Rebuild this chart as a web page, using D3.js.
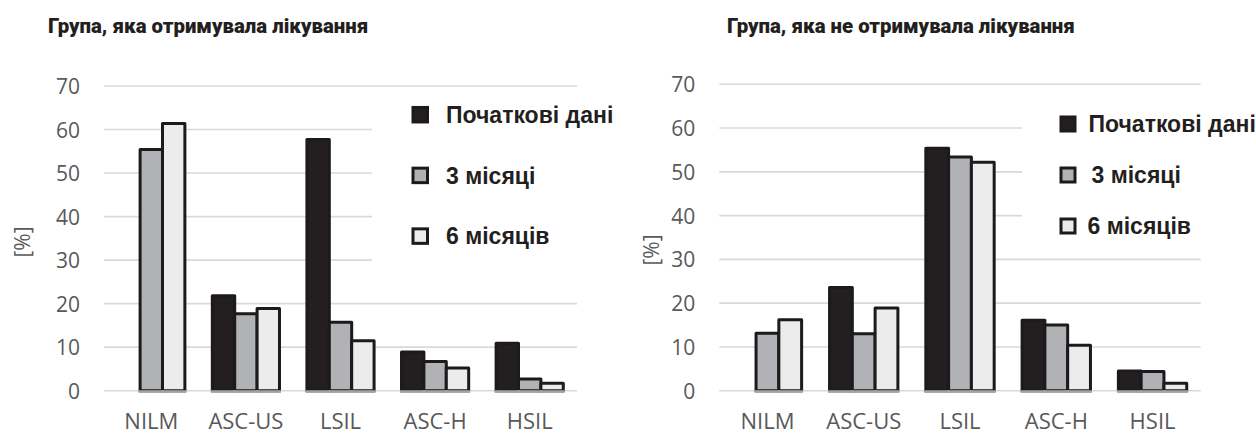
<!DOCTYPE html>
<html>
<head>
<meta charset="utf-8">
<script src="https://cdn.jsdelivr.net/npm/d3@7"></script>
<style>
  html, body { margin: 0; padding: 0; background: #fff; }
  svg { display: block; }
</style>
</head>
<body>
<svg id="chart" width="1256" height="434"></svg>
<script>
// Cytology categories and the three observation points
const categories = ["NILM", "ASC-US", "LSIL", "ASC-H", "HSIL"];
const seriesNames = ["Початкові дані", "3 місяці", "6 місяців"];
const yTicks = [0, 10, 20, 30, 40, 50, 60, 70];

// Treated group, % of patients
const treatedBaseline = [0, 21.8, 57.7, 8.9, 10.9];
const treated3m = [55.4, 17.7, 15.7, 6.7, 2.7];
const treated6m = [61.4, 18.9, 11.5, 5.2, 1.7];

// Untreated group, % of patients
const untreatedBaseline = [0, 23.6, 55.4, 16.1, 4.5];
const untreated3m = [13.1, 13.0, 53.4, 15.0, 4.4];
const untreated6m = [16.2, 18.9, 52.2, 10.4, 1.7];

const titleTreated = "Група, яка отримувала лікування";
const titleUntreated = "Група, яка не отримувала лікування";
const yLabel = "[%]";

const fills = ["#231f20", "#b1b2b6", "#ececec"];
const strokeColor = "#1c1a1b";
const gridColor = "#d9d9d9";
const tickColor = "#595959";

const svg = d3.select("#chart");

function drawPanel(opts) {
  const g = svg.append("g");
  const series = opts.series;

  const x = d3.scaleBand().domain(categories)
    .range([opts.x0, opts.x1]).paddingInner(0.29).paddingOuter(0.145);
  const xs = d3.scaleBand().domain(d3.range(series.length))
    .range([0, x.bandwidth()]);
  const y = d3.scaleLinear().domain([0, 70]).range([opts.yBottom, opts.yTop]);

  // horizontal gridlines
  g.append("g").selectAll("line").data(yTicks).join("line")
    .attr("x1", opts.x0).attr("x2", opts.x1)
    .attr("y1", d => y(d)).attr("y2", d => y(d))
    .attr("stroke", gridColor).attr("stroke-width", 1.6);

  // y tick labels
  const yAxis = g.append("g")
    .attr("transform", `translate(${opts.x0},0)`)
    .call(d3.axisLeft(y).tickValues(yTicks).tickSize(0).tickPadding(24));
  yAxis.select(".domain").remove();
  yAxis.selectAll("text")
    .attr("fill", tickColor)
    .style("font-family", "'Open Sans', sans-serif")
    .style("font-size", "21px")
    .attr("dy", "0.36em");

  // x category labels
  const xAxis = g.append("g")
    .attr("transform", `translate(0,${opts.yBottom})`)
    .call(d3.axisBottom(x).tickSize(0).tickPadding(23));
  xAxis.select(".domain").remove();
  xAxis.selectAll("text")
    .attr("fill", tickColor)
    .style("font-family", "'Open Sans', sans-serif")
    .style("font-size", "22px");

  // bars
  const flat = [];
  categories.forEach((c, i) => {
    series.forEach((s, k) => {
      if (s[i] > 0) flat.push({ c, k, v: s[i] });
    });
  });
  const bars = g.append("g");
  bars.selectAll("rect").data(flat).join("rect")
    .attr("x", d => x(d.c) + xs(d.k))
    .attr("width", xs.bandwidth())
    .attr("y", d => y(d.v))
    .attr("height", d => y(0) - y(d.v))
    .attr("fill", d => fills[d.k])
    .attr("stroke", strokeColor)
    .attr("stroke-width", 3)
    .attr("stroke-linejoin", "round");
  // grey foot under every bar
  bars.selectAll("line").data(flat).join("line")
    .attr("x1", d => x(d.c) + xs(d.k) - 1.5)
    .attr("x2", d => x(d.c) + xs(d.k) + xs.bandwidth() + 1.5)
    .attr("y1", y(0) + 0.8).attr("y2", y(0) + 0.8)
    .attr("stroke", "#a3a3a3").attr("stroke-width", 2.6);

  // y-axis label
  g.append("text")
    .attr("transform", `translate(${opts.yLabelX},${opts.yLabelY}) rotate(-90)`)
    .attr("text-anchor", "middle").attr("dy", "0.35em")
    .attr("fill", tickColor)
    .style("font-family", "'Open Sans', sans-serif")
    .style("font-size", "21px")
    .text(yLabel);

  // title
  g.append("text")
    .attr("x", opts.titleX).attr("y", 33)
    .attr("fill", "#231f20")
    .style("font-family", "Roboto, sans-serif")
    .style("font-weight", "900")
    .style("font-size", "20.4px")
    .text(opts.title);

  // legend with white backing over the grid
  const lg = g.append("g");
  lg.append("rect")
    .attr("x", opts.legend.boxX).attr("y", opts.legend.boxY)
    .attr("width", opts.legend.boxW).attr("height", opts.legend.boxH)
    .attr("fill", "#fff");
  seriesNames.forEach((name, k) => {
    const cy = opts.legend.y0 + k * opts.legend.step;
    const s = opts.legend.sq;
    lg.append("rect")
      .attr("x", opts.legend.sqX + 1.5).attr("y", cy - s / 2 + 1.5)
      .attr("width", s - 3).attr("height", s - 3)
      .attr("fill", fills[k]).attr("stroke", strokeColor).attr("stroke-width", 3);
    lg.append("text")
      .attr("x", opts.legend.textX[k]).attr("y", cy).attr("dy", "0.36em")
      .attr("fill", "#231f20")
      .style("font-family", "'Liberation Sans', Arial, sans-serif")
      .style("font-weight", "700")
      .style("font-size", "23px")
      .text(name);
  });
}

drawPanel({
  series: [treatedBaseline, treated3m, treated6m],
  x0: 104, x1: 577, yTop: 86, yBottom: 390.7,
  yLabelX: 23, yLabelY: 242,
  titleX: 48, title: titleTreated,
  legend: { boxX: 372, boxY: 95, boxW: 250, boxH: 175,
            sqX: 411.5, sq: 17.5, y0: 114.7, step: 60.7,
            textX: [446, 446, 446] }
});

drawPanel({
  series: [untreatedBaseline, untreated3m, untreated6m],
  x0: 719.3, x1: 1200.7, yTop: 84.3, yBottom: 390.7,
  yLabelX: 652, yLabelY: 250,
  titleX: 727, title: titleUntreated,
  legend: { boxX: 1022, boxY: 100, boxW: 234, boxH: 140,
            sqX: 1059.5, sq: 17, y0: 124, step: 51,
            textX: [1088.5, 1091.5, 1087.5] }
});
</script>
</body>
</html>
